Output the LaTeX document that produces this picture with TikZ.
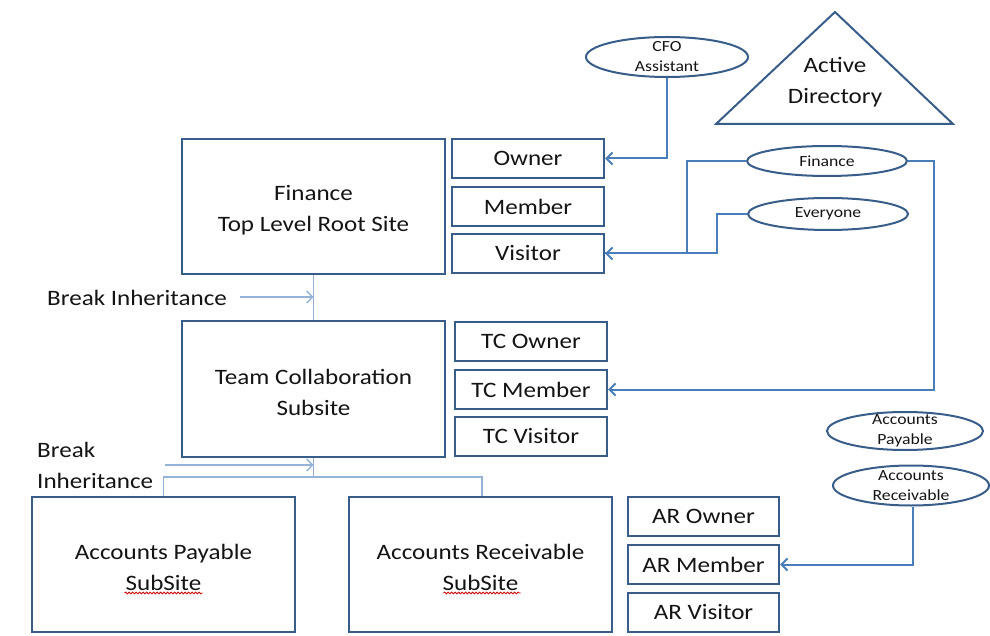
\documentclass[tikz,border=0pt]{standalone}
\usepackage{fontspec}
\setmainfont{Carlito}[FakeStretch=1.14]
\usetikzlibrary{arrows.meta,decorations.pathmorphing,calc,shapes.geometric}

\definecolor{boxblue}{RGB}{56,93,138}
\definecolor{linkblue}{RGB}{74,126,187}
\definecolor{lightblue}{RGB}{149,179,215}
\definecolor{inkgray}{RGB}{20,20,20}

\newcommand\boxfont{\fontsize{22}{31}\selectfont}
\newcommand\groupfont{\fontsize{15.5}{20}\selectfont}
\newcommand\tallstrut{\rule{0pt}{22pt}}

\tikzset{
  site/.style={draw=boxblue, line width=2.2pt, minimum width=263pt, minimum height=135pt,
    inner sep=0pt, align=center, font=\boxfont, text=inkgray},
  role/.style={draw=boxblue, line width=2.2pt, minimum width=152pt, minimum height=39pt,
    inner sep=0pt, font=\boxfont, text=inkgray},
  group/.style={ellipse, draw=boxblue, line width=2pt, inner sep=0pt,
    label={[font=\groupfont, align=center, text=inkgray]center:#1}},
  link/.style={draw=linkblue, line width=2pt},
  linkarrow/.style={link, -{Straight Barb[length=6pt,width=12pt,line width=2pt]}},
  inherit/.style={draw=lightblue, line width=1.3pt},
  inheritarrow/.style={inherit, -{Straight Barb[length=6pt,width=12pt,line width=1.3pt]}},
  spell/.style={draw=red!80!black, line width=0.8pt,
    decorate, decoration={snake, amplitude=0.9pt, segment length=3.5pt}},
  note/.style={font=\boxfont, text=inkgray, inner sep=0pt, align=left}
}

\begin{document}
\begin{tikzpicture}[x=1pt, y=-1pt]
  \useasboundingbox (0,0) rectangle (990,636);

  % sites
  \node[site] (root) at (313.5,206.5) {\tallstrut Finance\\Top Level Root Site};
  \node[site, minimum height=136pt] (team) at (313.5,389) {\tallstrut Team Collaboration\\Subsite};
  \node[site] (ap) at (163.5,564.5) {\tallstrut Accounts Payable\\SubSite};
  \node[site] (ar) at (480.5,564.5) {\tallstrut Accounts Receivable\\SubSite};

  % SharePoint groups of each site
  \node[role] (owner)   at (528,158.5) {Owner};
  \node[role] (member)  at (528,206.5) {Member};
  \node[role] (visitor) at (528,253.5) {Visitor};

  \node[role] (tcowner)   at (531,341.5) {TC Owner};
  \node[role] (tcmember)  at (531,389.5) {TC Member};
  \node[role] (tcvisitor) at (531,436.5) {TC Visitor};

  \node[role, minimum width=151pt] (arowner)   at (703.5,516.5) {AR Owner};
  \node[role, minimum width=151pt] (armember)  at (703.5,564.5) {AR Member};
  \node[role, minimum width=151pt] (arvisitor) at (703.5,612.5) {AR Visitor};

  % Active Directory groups
  \node[group={CFO\\Assistant}, minimum width=162pt, minimum height=40pt] (cfo) at (667,57) {};
  \node[group={Finance}, minimum width=160pt, minimum height=30pt] (fin) at (827,161) {};
  \node[group={Everyone}, minimum width=160pt, minimum height=32pt] (every) at (828,214) {};
  \node[group={Accounts\\Payable}, minimum width=156pt, minimum height=38pt] (apg) at (905,431) {};
  \node[group={Accounts\\Receivable}, minimum width=156pt, minimum height=40pt] (arg) at (911,485.5) {};

  % Active Directory triangle
  \coordinate (adtop) at (835,12);
  \coordinate (adright) at (953,124);
  \coordinate (adleft) at (716,124);
  \draw[boxblue, line width=2pt, line join=miter] (adtop) -- (adright) -- (adleft) -- cycle;
  \node[font=\boxfont, text=inkgray, align=center, inner sep=0pt] (ad) at (835,82) {Active\\Directory};

  % group memberships
  \draw[linkarrow] (cfo.south) |- (owner.east);
  \draw[linkarrow] (fin.west) -- ++(-59,0) |- (visitor.east);
  \draw[link] (every.west) -- ++(-30,0) |- (visitor.east);
  \draw[linkarrow] (fin.east) -- ++(26,0) |- (tcmember.east);
  \draw[linkarrow] ($(arg.south)+(2,0)$) |- (armember.east);

  % site hierarchy
  \draw[inherit] (root.south) -- (team.north);
  \node[note, anchor=west] (break1) at (47,298) {Break Inheritance};
  \coordinate (hook1) at (313.5,297);
  \draw[inheritarrow] (240,297) -- (hook1);

  \coordinate (fork) at (313.5,477);
  \draw[inherit] (team.south) -- (fork);
  \draw[inherit] (ap.north) |- (fork) -| ($(ar.north)+(1.5,0)$);
  \node[note, anchor=west] (break2) at (37,465) {Break\\Inheritance};
  \coordinate (hook2) at (313.5,465);
  \draw[inheritarrow] (165,465) -- (hook2);

  % spelling marks under "SubSite"
  \draw[spell] ($(ap.center)+(-39,28.5)$) -- ++(78,0);
  \draw[spell] ($(ar.center)+(-37,28.5)$) -- ++(77,0);
\end{tikzpicture}
\end{document}
